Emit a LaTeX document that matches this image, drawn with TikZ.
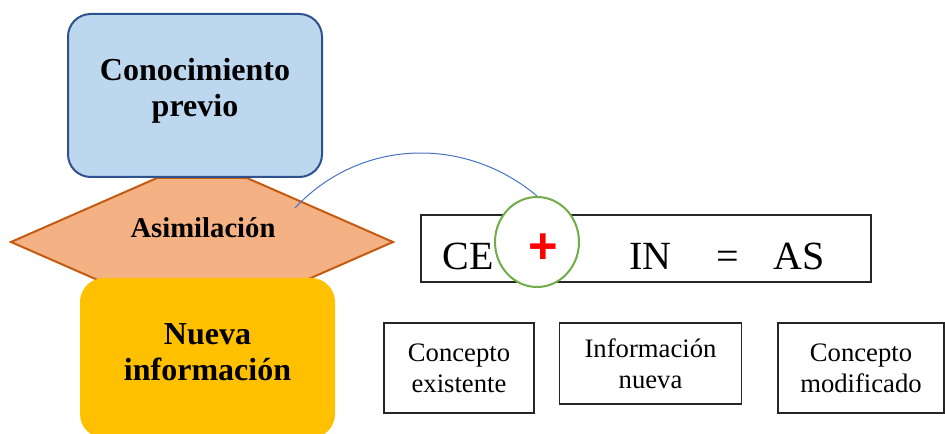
\documentclass[tikz,border=0pt]{standalone}
\usepackage{fontspec}
\setmainfont{Liberation Serif}
\newfontfamily\signofont{Liberation Sans}
\usepackage{tikz}
\usetikzlibrary{shapes.geometric}
\definecolor{azulclaro}{HTML}{BDD7EE}
\definecolor{azulborde}{HTML}{2F528F}
\definecolor{naranja}{HTML}{F4B183}
\definecolor{naranjaborde}{HTML}{C55A11}
\definecolor{amarillo}{HTML}{FFC000}
\definecolor{verde}{HTML}{70AD47}
\definecolor{azularco}{HTML}{4472C4}

\begin{document}
\begin{tikzpicture}[x=0.75pt,y=0.75pt
  ,align=center
  ,line width=1pt]
  \tikzstyle{hexa}=[draw=naranjaborde,fill=naranja,line width=1.5pt,line join=miter]
  \tikzstyle{previo}=[draw=azulborde,fill=azulclaro,line width=1.5pt,
  rounded corners=17pt,minimum width=190.5pt,minimum height=122.25pt,
  text depth=12.5pt,font=\fontsize{24}{27}\selectfont\bfseries]
  \tikzstyle{nueva}=[fill=amarillo,rounded corners=18pt,
  minimum width=191.25pt,minimum height=120pt,
  text depth=9pt,font=\fontsize{24}{27}\selectfont\bfseries]
  \tikzstyle{ecua}=[draw=black!85,minimum width=337.5pt,minimum height=50.25pt]
  \tikzstyle{letra}=[inner sep=0pt,anchor=base west,font=\fontsize{30}{36}\selectfont]
  \tikzstyle{circulo}=[ellipse,draw=verde,fill=white,line width=1.5pt,
  inner sep=0pt,minimum width=63pt,minimum height=67.5pt]
  \tikzstyle{caja}=[draw=black!85,font=\fontsize{20}{23}\selectfont]

  \useasboundingbox (0,0) rectangle (945,-434);

  % hexagono
  \draw[hexa] (11,-242) -- (157,-178) -- (247,-178) -- (393,-242)
  -- (247,-306) -- (157,-306) -- cycle;
  \node[font=\fontsize{21.5}{24}\selectfont\bfseries] (asim) at (203,-228) {Asimilación};

  % cajas de la izquierda
  \node[previo] (cp) at (195,-95.5) {Conocimiento\\previo};
  \node[nueva] (ni) at (207.5,-358) {Nueva\\información};

  % CE + IN = AS
  \node[ecua] (eq) at (646,-248.5) {};
  \node[letra] (ce) at (442,-270) {CE};
  \node[letra] (in) at (629,-270) {IN};
  \node[letra] (igual) at (716,-270) {=};
  \node[letra] (as) at (773,-270) {AS};
  \node[circulo] (circ) at (537,-242) {};
  \node[inner sep=0pt,text=red,font=\signofont\fontsize{38}{38}\selectfont\bfseries]
  (mas) at (543,-249) {+};

  \coordinate (asimini) at (295,-208);
  \path (asimini) edge[azularco,line width=0.75pt,out=47,in=140] (circ.north);

  % cajas de abajo
  \node[caja,minimum width=112.5pt,minimum height=67.5pt] (ce2) at (459,-368) {Concepto\\existente};
  \node[caja,minimum width=136.5pt,minimum height=60.75pt] (in2) at (650.5,-363.5) {Información\\nueva};
  \node[caja,minimum width=124.5pt,minimum height=67.5pt] (as2) at (861,-368) {Concepto\\modificado};

\end{tikzpicture}
\end{document}
